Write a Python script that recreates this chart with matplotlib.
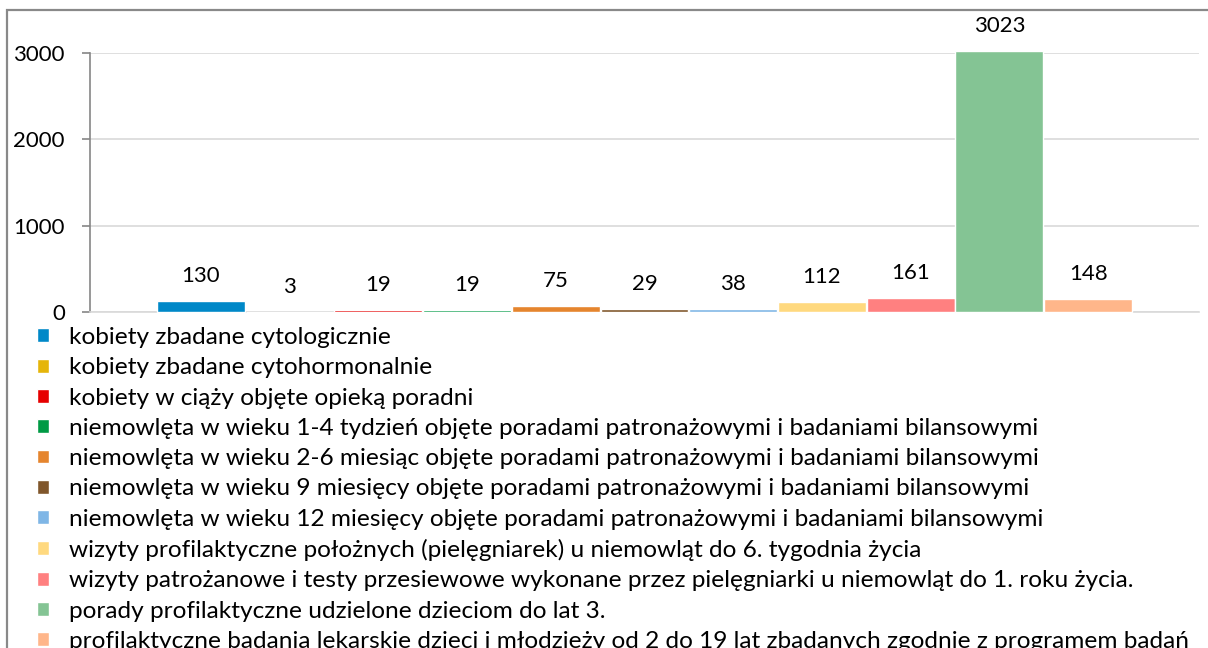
import matplotlib
matplotlib.use('Agg')
from matplotlib import pyplot as plt
from matplotlib.patches import Rectangle

labels = [
    'kobiety zbadane cytologicznie',
    'kobiety zbadane cytohormonalnie',
    'kobiety w ciąży objęte opieką poradni',
    'niemowlęta w wieku 1-4 tydzień objęte poradami patronażowymi i badaniami bilansowymi',
    'niemowlęta w wieku 2-6 miesiąc objęte poradami patronażowymi i badaniami bilansowymi',
    'niemowlęta w wieku 9 miesięcy objęte poradami patronażowymi i badaniami bilansowymi',
    'niemowlęta w wieku 12 miesięcy objęte poradami patronażowymi i badaniami bilansowymi',
    'wizyty profilaktyczne położnych (pielęgniarek) u niemowląt do 6. tygodnia życia',
    'wizyty patrożanowe i testy przesiewowe wykonane przez pielęgniarki u niemowląt do 1. roku życia.',
    'porady profilaktyczne udzielone dzieciom do lat 3.',
    'profilaktyczne badania lekarskie dzieci i młodzieży od 2 do 19 lat zbadanych zgodnie z programem badań',
]
values = [130, 3, 19, 19, 75, 29, 38, 112, 161, 3023, 148]
colors = ['#0088C8', '#E5B50A', '#E60000', '#009A44', '#E5852E', '#80562B',
          '#7FB6E6', '#FFD97F', '#FF8080', '#84C494', '#FFB68A']
yticks = [0, 1000, 2000, 3000]

plt.rcParams['font.family'] = ['Lato', 'DejaVu Sans']

fig = plt.figure(figsize=(12.08, 6.48), dpi=100)
ax = fig.add_axes([90/1208, 1-312/648, (1199-90)/1208, (312-53)/648])

bars = []
for i, (v, c) in enumerate(zip(values, colors)):
    b = ax.bar(i, v, width=0.99, color=c, edgecolor='white', linewidth=1,
               clip_on=False, zorder=3)
    bars.append(b[0])
    ax.annotate(str(v), (i, v), xytext=(0, 18), textcoords='offset points',
                ha='center', va='center', fontsize=16, color='black',
                annotation_clip=False)

ax.set_xlim(-1.25, 11.25)
ax.set_ylim(0, 3000)
ax.set_yticks(yticks)
ax.set_yticklabels([str(t) for t in yticks], fontsize=16)
ax.set_xticks([])
ax.grid(axis='y', color='#d9d9d9', linewidth=1.2, zorder=0)
ax.tick_params(axis='y', length=6, width=1.2, color='#868686', pad=12)
for s in ['top', 'right']:
    ax.spines[s].set_visible(False)
ax.spines['left'].set_color('#868686')
ax.spines['left'].set_linewidth(1.2)
ax.spines['bottom'].set_color('#d9d9d9')
ax.spines['bottom'].set_linewidth(1.2)

fig.legend(handles=bars, labels=labels, loc='upper left',
           bbox_to_anchor=(37/1208, 1-327/648),
           frameon=False, fontsize=17.6, handlelength=0.5, handleheight=0.5,
           handletextpad=0.8, labelspacing=0.38, borderpad=0, borderaxespad=0)

fig.add_artist(Rectangle((7/1208, -0.1), 1.2, 1-10/648+0.1, transform=fig.transFigure,
                         fill=False, edgecolor='#898989', linewidth=1.6))

fig.savefig('out.png', dpi=100)
